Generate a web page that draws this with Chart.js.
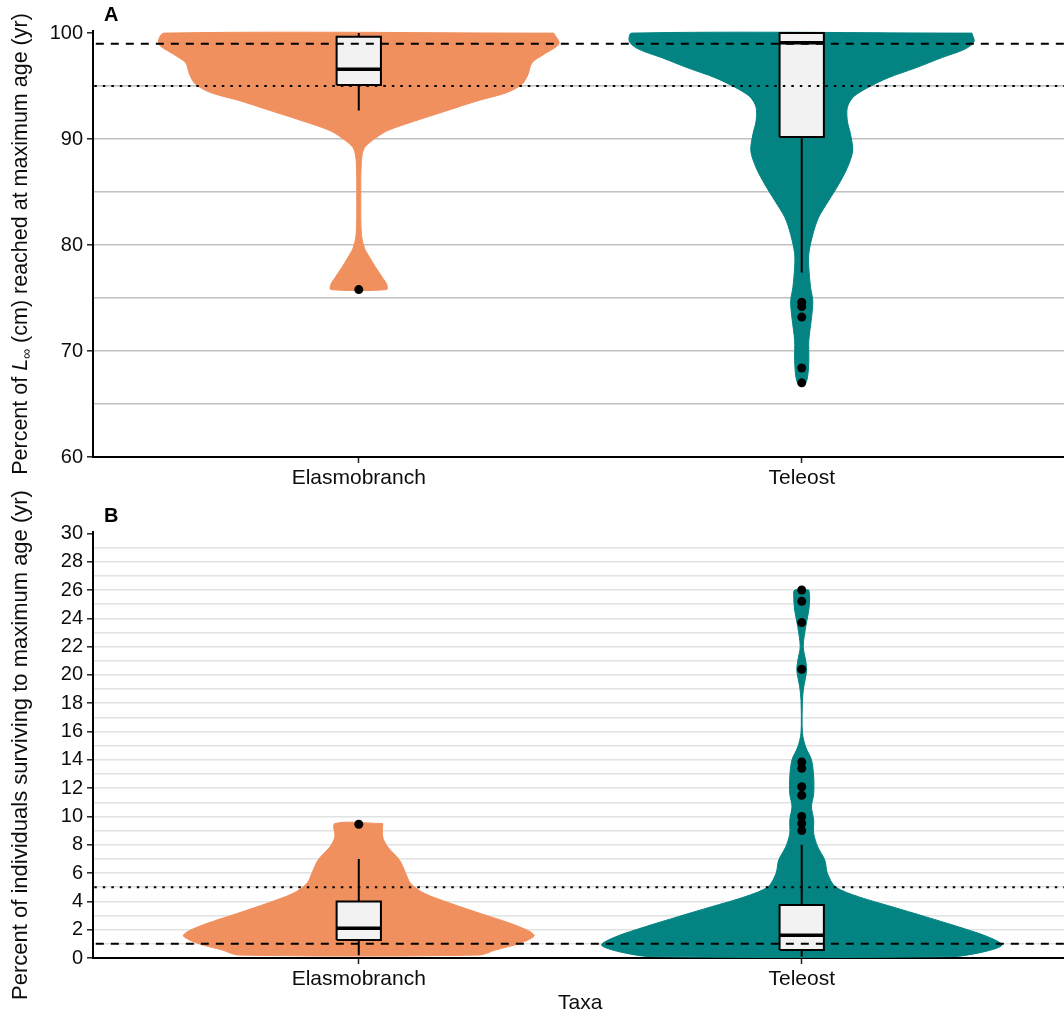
<!DOCTYPE html>
<html><head><meta charset="utf-8">
<script src="https://cdn.jsdelivr.net/npm/chart.js@4.4.0/dist/chart.umd.min.js"></script>
<style>
html,body{margin:0;padding:0;background:#fff;overflow:hidden;width:1064px;height:1016px;}
#wrap{position:relative;width:1072px;height:1016px;}
canvas{position:absolute;left:0;}
#cA{top:0;width:1072px;height:500px;}
#cB{top:470px;width:1072px;height:546px;}
</style></head><body>
<div id="wrap"><canvas id="cA" width="1072" height="500"></canvas><canvas id="cB" width="1072" height="546"></canvas></div>
<script>
// ---------- DATA ----------
const categories = ['Elasmobranch', 'Teleost'];
const catPos = [1, 2];

// Panel A: percent of L-infinity reached at maximum age
const aElasmoViolinY = [100, 99.0, 98.0, 97.2, 96.1, 95.2, 94.4, 93.6, 92.6, 91.7, 90.8, 90.1, 89.2, 88.0, 84.2, 81.0, 79.7, 78.8, 77.9, 76.9, 76.3, 75.8];
const aElasmoViolinW = [0.440, 0.452, 0.418, 0.391, 0.382, 0.369, 0.335, 0.267, 0.193, 0.126, 0.065, 0.038, 0.013, 0.006, 0.0045, 0.006, 0.013, 0.025, 0.038, 0.054, 0.063, 0.063];
const aTeleostViolinY = [100, 99.2, 98.5, 97.7, 96.7, 95.8, 94.9, 94.0, 93.0, 91.7, 90.5, 88.9, 87.3, 85.7, 84.2, 82.6, 81.0, 79.2, 77.9, 76.0, 74.7, 73.1, 71.0, 69.1, 67.5, 66.9];
const aTeleostViolinW = [0.384, 0.389, 0.369, 0.317, 0.256, 0.196, 0.151, 0.117, 0.103, 0.103, 0.110, 0.115, 0.103, 0.083, 0.061, 0.038, 0.025, 0.016, 0.016, 0.020, 0.025, 0.022, 0.016, 0.016, 0.013, 0.007];
const aBoxLow  = [92.7, 77.4];
const aBoxQ1   = [95.1, 90.2];
const aBoxMed  = [96.6, 99.1];
const aBoxQ3   = [99.65, 100];
const aBoxHigh = [100, 100];
const aOutliersElasmo  = [75.8];
const aOutliersTeleost = [74.6, 74.2, 73.2, 68.4, 67.0];
const aRefDashed = 99;
const aRefDotted = 95;
const aTickValues = [60, 65, 70, 75, 80, 85, 90, 95, 100];

// Panel B: percent of individuals surviving to maximum age
const bElasmoViolinY = [9.5, 8.56, 7.86, 6.92, 5.98, 5.27, 4.57, 3.86, 3.15, 2.45, 1.86, 1.55, 1.04, 0.56, 0.21];
const bElasmoViolinW = [0.054, 0.054, 0.065, 0.092, 0.106, 0.117, 0.148, 0.207, 0.274, 0.342, 0.387, 0.396, 0.364, 0.308, 0.272];
const bTeleostViolinY = [26.0, 25.5, 24.6, 23.4, 22.0, 21.0, 20.3, 19.15, 18.2, 15.9, 14.9, 14.0, 12.8, 11.6, 10.7, 9.74, 8.8, 7.86, 6.92, 5.98, 5.03, 4.33, 3.62, 2.92, 2.21, 1.5, 0.92, 0.45, 0.1];
const bTeleostViolinW = [0.016, 0.018, 0.016, 0.009, 0.0034, 0.009, 0.011, 0.0045, 0.0016, 0.0016, 0.009, 0.022, 0.027, 0.027, 0.022, 0.027, 0.027, 0.036, 0.052, 0.058, 0.076, 0.128, 0.204, 0.279, 0.353, 0.420, 0.452, 0.413, 0.339];
const bBoxLow  = [0.2, 0.1];
const bBoxQ1   = [1.27, 0.57];
const bBoxMed  = [2.1, 1.6];
const bBoxQ3   = [4.0, 3.75];
const bBoxHigh = [7.0, 8.0];
const bOutliersElasmo  = [9.45];
const bOutliersTeleost = [26.0, 25.2, 23.7, 20.4, 13.85, 13.4, 12.1, 11.5, 10.0, 9.5, 9.0];
const bRefDashed = 1;
const bRefDotted = 5;
const bTickValues = Array.from({length: 31}, (_, i) => i);

// ---------- STYLE ----------
const COLORS = ['#F0905F', '#038483'];
const FONT = '"Liberation Sans", Arial, sans-serif';
const TEXT = '#0d0d0d';
const BOX_HALF = 0.05;

function violinPoly(c, ys, ws) {
  const right = ys.map((y, i) => ({x: c + ws[i], y}));
  const left = ys.map((y, i) => ({x: c - ws[i], y})).reverse();
  return right.concat(left, [right[0]]);
}

function panelDatasets(v, box, outs, refDashed, refDotted) {
  const ds = [];
  v.forEach((vv, i) => {
    ds.push({data: violinPoly(catPos[i], vv[0], vv[1]), showLine: true, fill: 'shape',
      backgroundColor: COLORS[i], borderColor: COLORS[i], borderWidth: 1, pointRadius: 0,
      tension: 0.3, order: 10});
  });
  catPos.forEach((c, i) => {
    ds.push({data: [{x: c, y: box.q3[i]}, {x: c, y: box.hi[i]}], showLine: true, borderColor: '#000',
      borderWidth: 2, pointRadius: 0, order: 8});
    ds.push({data: [{x: c, y: box.q1[i]}, {x: c, y: box.lo[i]}], showLine: true, borderColor: '#000',
      borderWidth: 2, pointRadius: 0, order: 8});
    ds.push({data: [{x: c - BOX_HALF, y: box.q1[i]}, {x: c + BOX_HALF, y: box.q1[i]}, {x: c + BOX_HALF, y: box.q3[i]},
      {x: c - BOX_HALF, y: box.q3[i]}, {x: c - BOX_HALF, y: box.q1[i]}], showLine: true, fill: 'shape',
      backgroundColor: '#f2f2f2', borderColor: '#000', borderWidth: 2, pointRadius: 0, order: 6});
    ds.push({data: [{x: c - BOX_HALF, y: box.med[i]}, {x: c + BOX_HALF, y: box.med[i]}], showLine: true,
      borderColor: '#000', borderWidth: 3.5, pointRadius: 0, order: 5});
    ds.push({data: outs[i].map(y => ({x: c, y})), showLine: false, pointRadius: 4.5,
      pointBackgroundColor: '#000', pointBorderWidth: 0, order: 3});
  });
  ds.push({data: [{x: 0, y: refDashed}, {x: 3, y: refDashed}], showLine: true, borderColor: '#000',
    borderWidth: 2, borderDash: [8, 7], pointRadius: 0, order: 1});
  ds.push({data: [{x: 0, y: refDotted}, {x: 3, y: refDotted}], showLine: true, borderColor: '#000',
    borderWidth: 2, borderDash: [2.5, 6], pointRadius: 0, order: 1});
  return ds;
}

function titlePlugin(segments, letter) {
  return {
    id: 'richTitle',
    afterDraw(chart) {
      const ctx = chart.ctx, area = chart.chartArea;
      ctx.save();
      ctx.fillStyle = '#000';
      ctx.font = 'bold 20px ' + FONT;
      ctx.textBaseline = 'middle';
      ctx.textAlign = 'left';
      ctx.fillText(letter, 104, area.top - 16);
      ctx.translate(21, (area.top + area.bottom) / 2);
      ctx.rotate(-Math.PI / 2);
      let total = 0;
      segments.forEach(s => { ctx.font = s.font; s.w = ctx.measureText(s.t).width; total += s.w; });
      let x = -total / 2;
      ctx.fillStyle = TEXT;
      segments.forEach(s => { ctx.font = s.font; ctx.fillText(s.t, x, s.dy || 0); x += s.w; });
      ctx.restore();
    }
  };
}

function makeChart(id, cfg) {
  const yScale = {
    type: 'linear', position: 'left', min: cfg.yMin, max: cfg.yMax, bounds: 'data',
    afterBuildTicks: s => { s.ticks = cfg.ticks.map(v => ({value: v})); },
    afterFit: s => { s.width = 93; },
    ticks: {autoSkip: false, padding: 4, color: TEXT, font: {family: FONT, size: 20},
      callback: v => (v % cfg.labelStep === 0 ? String(v) : '')},
    grid: {
      color: c => (c.tick && c.tick.value > cfg.yMin && c.tick.value < cfg.gridMax ? cfg.gridColor : 'rgba(0,0,0,0)'),
      lineWidth: 1.6, drawTicks: true, tickLength: 6,
      tickColor: c => (c.tick && c.tick.value % cfg.labelStep === 0 ? '#222' : 'rgba(0,0,0,0)'), tickWidth: 1.5
    },
    border: {display: true, color: '#000', width: 2}
  };
  const xScale = {
    type: 'linear', position: 'bottom', min: 0.4, max: 2.6, bounds: 'data',
    afterBuildTicks: s => { s.ticks = catPos.map(v => ({value: v})); },
    afterFit: s => { s.height = cfg.xHeight; },
    ticks: {autoSkip: false, maxRotation: 0, padding: 3, color: TEXT, font: {family: FONT, size: 21},
      callback: v => categories[catPos.indexOf(v)] || ''},
    grid: {drawOnChartArea: false, drawTicks: true, tickLength: 6, tickColor: '#222', tickWidth: 1.5},
    border: {display: true, color: '#000', width: 2},
    title: cfg.xTitle ? {display: true, text: cfg.xTitle, color: TEXT, font: {family: FONT, size: 21}, padding: {top: 0, bottom: 0}} : {display: false}
  };
  return new Chart(document.getElementById(id), {
    type: 'scatter',
    data: {datasets: cfg.datasets},
    options: {
      responsive: false, animation: false, devicePixelRatio: 1,
      layout: {padding: {top: cfg.padTop, left: 0, right: 0, bottom: 0}},
      plugins: {legend: {display: false}, tooltip: {enabled: false}},
      scales: {x: xScale, y: yScale}
    },
    plugins: [titlePlugin(cfg.titleSegments, cfg.letter)]
  });
}

makeChart('cA', {
  yMin: 60, yMax: 100.2, ticks: aTickValues, labelStep: 10, gridMax: 99, gridColor: '#c0c0c0',
  padTop: 31, xHeight: 43, letter: 'A',
  titleSegments: [
    {t: 'Percent of ', font: '21.5px ' + FONT},
    {t: 'L', font: 'italic 21.5px ' + FONT},
    {t: '\u221E', font: '14px ' + FONT, dy: 6},
    {t: ' (cm) reached at maximum age (yr)', font: '21.5px ' + FONT}
  ],
  datasets: panelDatasets(
    [[aElasmoViolinY, aElasmoViolinW], [aTeleostViolinY, aTeleostViolinW]],
    {lo: aBoxLow, q1: aBoxQ1, med: aBoxMed, q3: aBoxQ3, hi: aBoxHigh},
    [aOutliersElasmo, aOutliersTeleost], aRefDashed, aRefDotted)
});

makeChart('cB', {
  yMin: 0, yMax: 30.1, ticks: bTickValues, labelStep: 2, gridMax: 29.5, gridColor: '#e2e2e2',
  padTop: 62, xHeight: 58, letter: 'B', xTitle: 'Taxa',
  titleSegments: [{t: 'Percent of individuals surviving to maximum age (yr)', font: '22px ' + FONT}],
  datasets: panelDatasets(
    [[bElasmoViolinY, bElasmoViolinW], [bTeleostViolinY, bTeleostViolinW]],
    {lo: bBoxLow, q1: bBoxQ1, med: bBoxMed, q3: bBoxQ3, hi: bBoxHigh},
    [bOutliersElasmo, bOutliersTeleost], bRefDashed, bRefDotted)
});
</script>
</body></html>
